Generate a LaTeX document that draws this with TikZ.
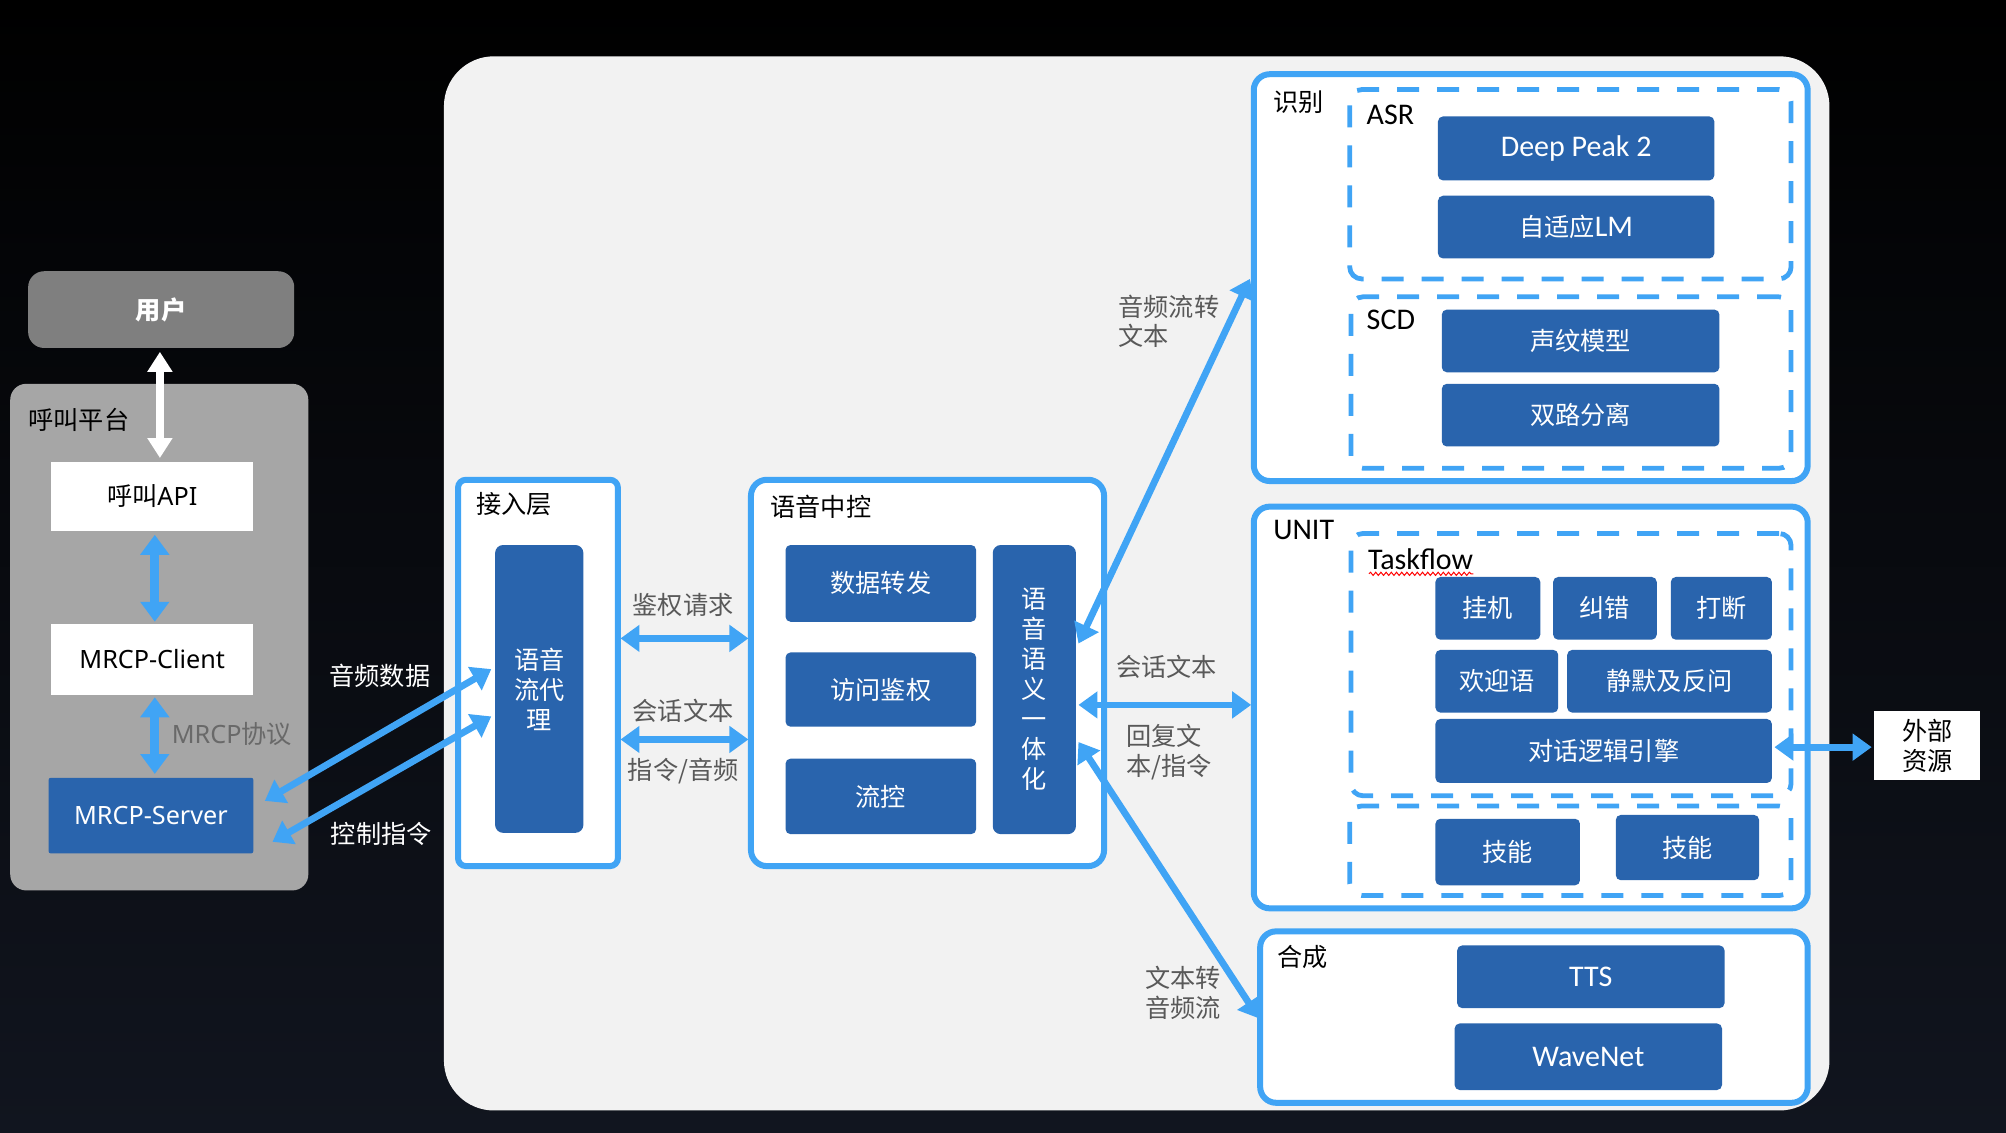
\documentclass[tikz,border=0pt]{standalone}
\usepackage{fontspec}
\setmainfont{Noto Sans CJK SC}
\newfontfamily\calfont{Carlito}
\newfontfamily\nsfont{Noto Sans}
\usetikzlibrary{arrows.meta,calc,decorations.pathmorphing}
\definecolor{dblue}{RGB}{41,100,173}
\definecolor{lblue}{RGB}{64,164,245}
\definecolor{panel}{RGB}{242,242,242}
\definecolor{gpanel}{RGB}{166,166,166}
\definecolor{ugray}{RGB}{127,127,127}
\definecolor{lgray}{RGB}{89,89,89}
\definecolor{mgray}{RGB}{105,105,105}
\definecolor{bgbot}{RGB}{17,21,31}
\begin{document}
\begin{tikzpicture}[x=0.63967pt,y=-0.63967pt,
  bb/.style n args={4}{at={({(#1+#3)/2},{(#2+#4)/2})},minimum width={(#3-#1)*0.63967pt},minimum height={(#4-#2)*0.63967pt},inner sep=0pt,outer sep=0pt},
  dbox/.style={fill=dblue,text=white,rounded corners=2.5pt,inner sep=0pt,align=center,font=\fontsize{12.6}{15}\selectfont},
  wbox/.style={fill=white,text=black,inner sep=0pt,align=center,font=\fontsize{12.6}{14.7}\selectfont},
  frame/.style={draw=lblue,line width=3pt,fill=white,rounded corners=8pt,inner sep=0pt},
  dframe/.style={draw=lblue,line width=2.4pt,dash pattern=on 11pt off 9pt,rounded corners=6pt,inner sep=0pt},
  lab/.style={font=\fontsize{12.6}{14.7}\selectfont,text=black,inner sep=0pt,anchor=west},
  clab/.style={font=\calfont\fontsize{15}{17}\selectfont,text=black,inner sep=0pt,anchor=west},
  glab/.style={font=\fontsize{12.6}{14.7}\selectfont,text=lgray,inner sep=0pt,align=left},
  wlab/.style={font=\fontsize{12.6}{14.7}\selectfont,text=white,inner sep=0pt},
  barrow/.style={draw=lblue,line width=3.4pt,{Triangle[length=9.5pt,width=13pt]}-{Triangle[length=9.5pt,width=13pt]}},
  varrow/.style={draw=lblue,line width=4.5pt,{Triangle[length=10pt,width=14pt]}-{Triangle[length=10pt,width=14pt]}},
  warrow/.style={draw=white,line width=4pt,{Triangle[length=10pt,width=12pt]}-{Triangle[length=10pt,width=12pt]}}
]
% background
\fill[top color=black,bottom color=bgbot] (0,0) rectangle (1568,885);
\useasboundingbox (0,0) rectangle (1568,885);
\fill[panel,rounded corners=25pt] (347,44) rectangle (1430,868);

% left platform
\node[fill=gpanel,rounded corners=8pt,bb={8}{300}{241}{696}] (plat) {};
\node[fill=ugray,rounded corners=8pt,text=white,font=\bfseries\fontsize{12.6}{15}\selectfont,bb={22}{212}{230}{272}] (user) {用户};
\node[lab] (platlab) at (22,328) {呼叫平台};
\node[wbox,bb={40}{361}{198}{415}] (api) {呼叫{\nsfont API}};
\node[wbox,font=\nsfont\fontsize{12.6}{15}\selectfont,bb={40}{488}{198}{543}] (client) {MRCP-Client};
\node[dbox,rounded corners=1pt,font=\nsfont\fontsize{12.6}{15}\selectfont,bb={38}{608}{198}{667}] (srv) {MRCP-Server};
\node[font=\fontsize{12.6}{15}\selectfont,text=mgray,inner sep=0pt,anchor=west] (mrcplab) at (134,574) {{\nsfont MRCP}协议};

% access layer
\node[frame,rounded corners=4pt,bb={358}{375}{483}{677}] (jr) {};
\node[lab] at (372,394) {接入层};
\node[dbox,rounded corners=4pt,bb={387}{426}{456}{651}] (proxy) {语音\\流代\\理};

% central control
\node[frame,bb={587}{375}{863}{677}] (zk) {};
\node[lab] at (602,396) {语音中控};
\node[dbox,bb={614}{426}{763}{486}] (sjzf) {数据转发};
\node[dbox,bb={614}{510}{763}{568}] (fwjq) {访问鉴权};
\node[dbox,bb={614}{593}{763}{652}] (lk) {流控};
\node[dbox,rounded corners=4pt,bb={776}{426}{841}{652}] (yy) {语\\音\\语\\义\\一\\体\\化};

% recognition
\node[frame,bb={980}{58}{1413}{376}] (sb) {};
\node[lab] at (995,80) {识别};
\node[dframe,bb={1055}{70}{1400}{218}] (asr) {};
\node[clab] at (1068,90) {ASR};
\node[dbox,font=\calfont\fontsize{15}{17}\selectfont,bb={1124}{91}{1340}{141}] (dp) {Deep Peak 2};
\node[dbox,bb={1124}{153}{1340}{202}] (lm) {自适应{\calfont\fontsize{15}{17}\selectfont LM}};
\node[dframe,bb={1056}{232}{1400}{366}] (scd) {};
\node[clab] at (1068,250) {SCD};
\node[dbox,bb={1127}{242}{1344}{291}] (swmx) {声纹模型};
\node[dbox,bb={1127}{300}{1344}{349}] (slfl) {双路分离};

% UNIT
\node[frame,bb={980}{396}{1413}{710}] (unit) {};
\node[clab] at (995,414) {UNIT};
\node[dframe,bb={1056}{417}{1400}{622}] (tf) {};
\node[clab] (tflab) at (1069,437) {Taskflow};
\draw[red,line width=0.5pt,decorate,decoration={snake,amplitude=0.8pt,segment length=2.6pt}] ($(tflab.south west)+(1,3)$) -- ($(tflab.south east)+(0,3)$);
\node[dbox,bb={1122}{451}{1204}{500}] (gj) {挂机};
\node[dbox,bb={1214}{451}{1295}{500}] (jc) {纠错};
\node[dbox,bb={1306}{451}{1385}{500}] (dd) {打断};
\node[dbox,bb={1122}{508}{1218}{557}] (hyy) {欢迎语};
\node[dbox,bb={1225}{508}{1385}{557}] (jm) {静默及反问};
\node[dbox,bb={1122}{562}{1385}{612}] (engine) {对话逻辑引擎};
\node[dframe,bb={1055}{630}{1400}{700}] (skills) {};
\node[dbox,bb={1122}{640}{1235}{692}] (jn1) {技能};
\node[dbox,bb={1263}{637}{1375}{688}] (jn2) {技能};
\node[wbox,bb={1465}{556}{1548}{610}] (ext) {外部\\资源};

% synthesis
\node[frame,bb={985}{728}{1413}{862}] (hc) {};
\node[lab] at (998,748) {合成};
\node[dbox,font=\calfont\fontsize{15}{17}\selectfont,bb={1139}{739}{1348}{788}] (tts) {TTS};
\node[dbox,font=\calfont\fontsize{15}{17}\selectfont,bb={1137}{800}{1346}{852}] (wn) {WaveNet};

% arrows
\draw[warrow] ($(user.south)+(-1,3)$) -- ($(api.north)+(6,-3)$);
\draw[varrow] ($(api.south)+(2,3)$) -- ($(client.north)+(2,-2)$);
\draw[varrow] ($(client.south)+(2,2)$) -- ($(srv.north)+(3,-3)$);
\draw[barrow] ($(srv.east)+(9,-11.5)$) -- ($(proxy.west)+(-3,-15.5)$);
\draw[barrow] ($(srv.east)+(15,20.5)$) -- ($(proxy.west)+(-3,21.5)$);
\draw[barrow] ($(jr.east)+(2,-27)$) -- ($(zk.west)+(-2,-27)$);
\draw[barrow] ($(jr.east)+(2,52)$) -- ($(zk.west)+(-2,52)$);
\draw[barrow] ($(yy.east)+(2,-36)$) -- ($(sb.west)+(-3,1)$);
\draw[barrow] ($(yy.east)+(2,12)$) -- ($(unit.west)+(-2,-2)$);
\draw[barrow] ($(yy.east)+(2,41)$) -- ($(hc.west)+(-1,1)$);
\draw[barrow] ($(engine.east)+(2,-3)$) -- ($(ext.west)+(-2,1)$);

% arrow labels
\node[wlab] at (297,528) {音频数据};
\node[wlab] at (298,652) {控制指令};
\node[glab] at (534,473) {鉴权请求};
\node[glab] at (534,556) {会话文本};
\node[glab] at (534,603) {指令/音频};
\node[glab,anchor=west] at (874,251) {音频流转\\文本};
\node[glab] at (912,521) {会话文本};
\node[glab,anchor=west] at (880,588) {回复文\\本/指令};
\node[glab,anchor=west] at (895,776) {文本转\\音频流};
\end{tikzpicture}
\end{document}
